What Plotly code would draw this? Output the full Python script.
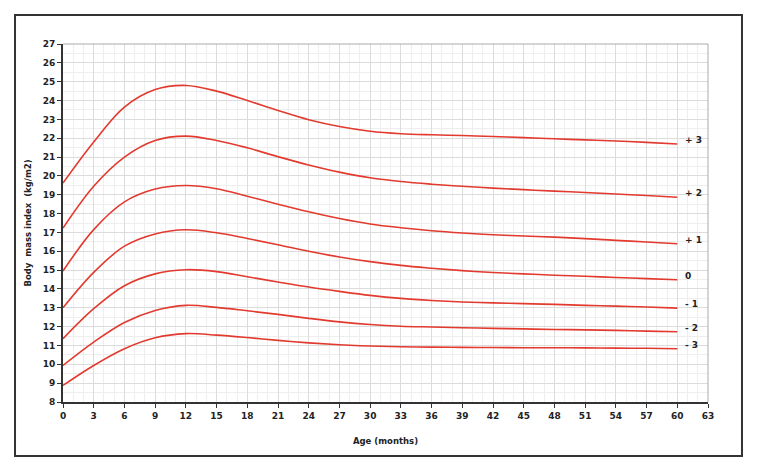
import plotly.graph_objects as go

months = [0, 3, 6, 9, 12, 15, 18, 21, 24, 27, 30, 33, 36, 39, 42, 45, 48, 51, 54, 57, 60]

sd_p3 = [19.62, 21.8, 23.65, 24.58, 24.8, 24.5, 24.0, 23.47, 22.98, 22.62, 22.37, 22.24, 22.18, 22.14, 22.09, 22.03, 21.97, 21.91, 21.85, 21.78, 21.69]
sd_p2 = [17.23, 19.45, 21.0, 21.88, 22.11, 21.88, 21.49, 21.02, 20.58, 20.2, 19.9, 19.7, 19.56, 19.45, 19.35, 19.27, 19.19, 19.12, 19.04, 18.96, 18.87]
sd_p1 = [14.95, 17.15, 18.62, 19.3, 19.49, 19.32, 18.92, 18.5, 18.1, 17.74, 17.45, 17.25, 17.09, 16.97, 16.88, 16.81, 16.75, 16.67, 16.58, 16.49, 16.4]
sd_0 = [13.0, 14.88, 16.27, 16.92, 17.14, 16.98, 16.68, 16.35, 16.0, 15.7, 15.45, 15.25, 15.1, 14.97, 14.87, 14.8, 14.73, 14.67, 14.61, 14.55, 14.49]
sd_m1 = [11.36, 12.95, 14.17, 14.8, 15.02, 14.92, 14.65, 14.37, 14.1, 13.87, 13.66, 13.5, 13.39, 13.31, 13.26, 13.22, 13.18, 13.13, 13.09, 13.04, 12.98]
sd_m2 = [9.94, 11.18, 12.22, 12.86, 13.13, 13.02, 12.84, 12.65, 12.44, 12.25, 12.11, 12.02, 11.98, 11.94, 11.91, 11.88, 11.85, 11.83, 11.8, 11.76, 11.73]
sd_m3 = [8.88, 9.94, 10.83, 11.41, 11.63, 11.55, 11.42, 11.27, 11.14, 11.04, 10.97, 10.93, 10.91, 10.9, 10.89, 10.88, 10.88, 10.87, 10.86, 10.85, 10.83]

series = [("+ 3", sd_p3), ("+ 2", sd_p2), ("+ 1", sd_p1), ("0", sd_0),
          ("- 1", sd_m1), ("- 2", sd_m2), ("- 3", sd_m3)]

x_ticks = list(range(0, 64, 3))
y_ticks = list(range(8, 28))

FONT = "DejaVu Sans"
RED = "#e23a2e"

fig = go.Figure()
for name, vals in series:
    fig.add_trace(go.Scatter(x=months, y=vals, mode="lines", name=name,
                             line=dict(color=RED, width=1.6, shape="spline", smoothing=1.0),
                             hoverinfo="x+y+name"))
    fig.add_annotation(x=months[-1] + 0.6, y=vals[-1] + 0.2, text="<b>%s</b>" % name,
                       showarrow=False, xanchor="left", yanchor="middle",
                       font=dict(family=FONT, size=9, color="#222"))

fig.add_shape(type="rect", xref="paper", yref="paper",
              x0=-0.0744, x1=1.0527, y0=-0.151, y1=1.081,
              line=dict(color="#333", width=2), fillcolor="rgba(0,0,0,0)", layer="below")

fig.update_layout(
    width=757, height=472,
    margin=dict(l=63, r=49, t=44, b=70),
    paper_bgcolor="white", plot_bgcolor="white",
    showlegend=False,
    font=dict(family=FONT, size=9, color="#222"),
)
fig.update_xaxes(
    range=[0, 63], tickvals=x_ticks, ticktext=["<b>%d</b>" % v for v in x_ticks],
    showgrid=True, gridcolor="#dcdcdc", gridwidth=1,
    minor=dict(dtick=1, showgrid=True, gridcolor="#eeeeee", gridwidth=1),
    showline=True, linecolor="#333", linewidth=2, mirror=False,
    ticks="outside", ticklen=4, tickcolor="#333", zeroline=False, automargin=False,
    title=dict(text="<b>Age (months)</b>", font=dict(family=FONT, size=8.5, color="#222"), standoff=18),
)
fig.update_yaxes(
    range=[8, 27], tickvals=y_ticks, ticktext=["<b>%d</b>" % v for v in y_ticks],
    showgrid=True, gridcolor="#dcdcdc", gridwidth=1,
    minor=dict(dtick=0.5, showgrid=True, gridcolor="#eeeeee", gridwidth=1),
    showline=True, linecolor="#333", linewidth=2, mirror=False,
    ticks="outside", ticklen=4, tickcolor="#333", zeroline=False, automargin=False,
    title=dict(text="<b>Body  mass index  (kg/m2)</b>", font=dict(family=FONT, size=8.5, color="#222"), standoff=10),
)
fig.add_shape(type="line", xref="paper", yref="paper", x0=0, x1=1, y0=1, y1=1,
              line=dict(color="#aaaaaa", width=1))
fig.add_shape(type="line", xref="paper", yref="paper", x0=1, x1=1, y0=0, y1=1,
              line=dict(color="#aaaaaa", width=1))

fig.write_html("out.html", config={"displayModeBar": False})

# remove the default 8px body margin so the figure sits at the window origin
with open("out.html", encoding="utf-8") as f:
    html = f.read()
html = html.replace("<body>", '<body style="margin:0;padding:0;">', 1)
with open("out.html", "w", encoding="utf-8") as f:
    f.write(html)
